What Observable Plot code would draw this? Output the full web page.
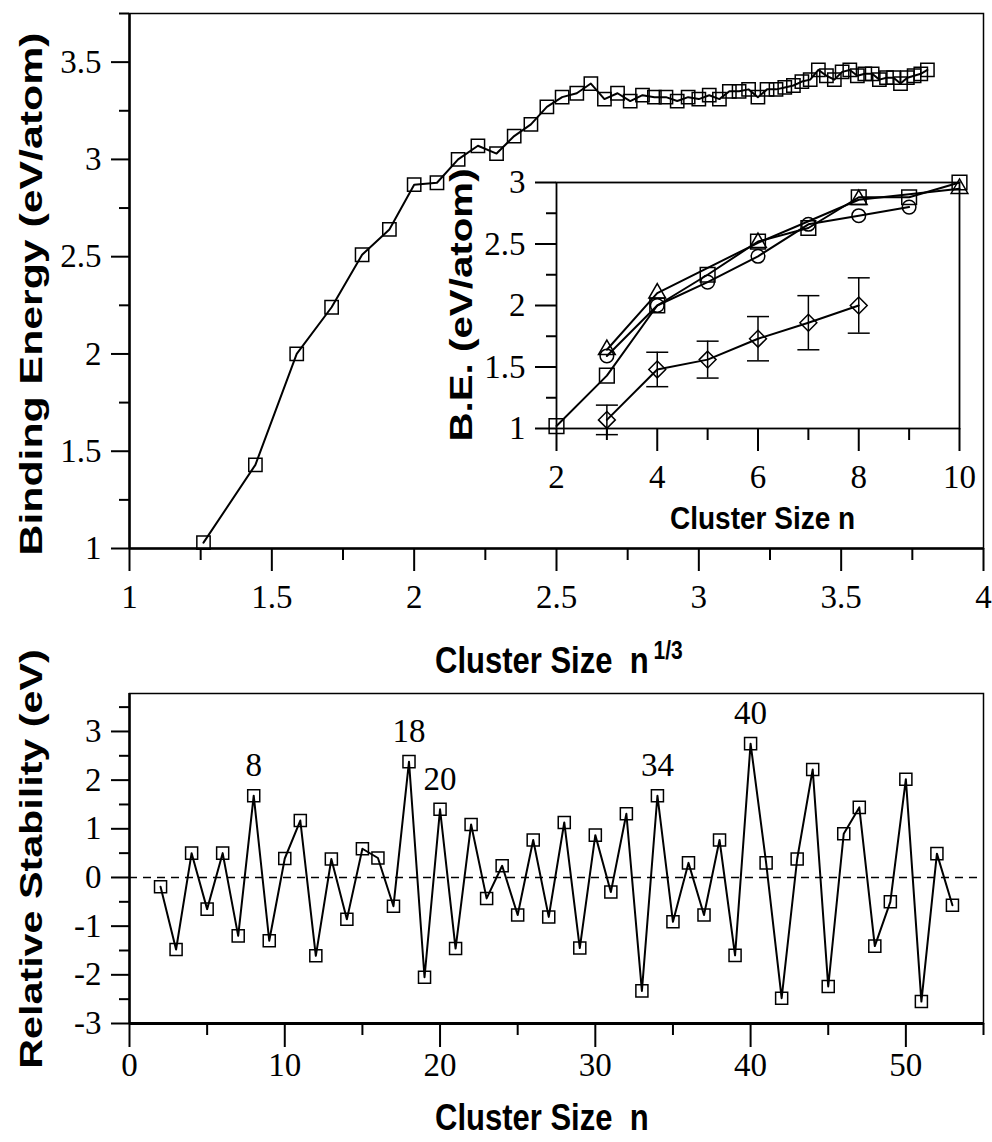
<!DOCTYPE html>
<html><head><meta charset="utf-8">
<script src="https://cdn.jsdelivr.net/npm/d3@7"></script>
<script src="https://cdn.jsdelivr.net/npm/@observablehq/plot@0.6"></script>
<style>
html,body{margin:0;padding:0;background:#fff;}
#page{position:relative;width:992px;height:1142px;overflow:hidden;background:#fff;}
.lbl{position:absolute;font-family:"Liberation Sans",Arial,Helvetica,sans-serif;font-weight:bold;color:#000;white-space:nowrap;}
</style></head><body><div id="page"></div>
<script>
// ---------------- data ----------------
const beN = d3.range(2, 56);
const beValues = [1.03,1.43,2.00,2.24,2.51,2.64,2.87,2.88,3.00,3.07,
  3.03,3.12,3.18,3.27,3.32,3.34,3.39,3.31,3.34,3.30,
  3.33,3.32,3.32,3.30,3.32,3.31,3.33,3.31,3.35,3.35,
  3.36,3.32,3.36,3.36,3.37,3.38,3.40,3.41,3.46,3.43,
  3.41,3.45,3.46,3.43,3.44,3.44,3.41,3.42,3.42,3.39,
  3.42,3.43,3.44,3.46];
const rsN = d3.range(2, 54);
const rsValues = [-0.19,-1.48,0.50,-0.65,0.50,-1.20,1.68,-1.30,0.39,1.17,
  -1.61,0.38,-0.86,0.59,0.40,-0.59,2.38,-2.05,1.40,-1.46,
  1.09,-0.43,0.24,-0.77,0.77,-0.81,1.13,-1.45,0.87,-0.30,
  1.31,-2.33,1.68,-0.91,0.30,-0.77,0.77,-1.60,2.75,0.30,
  -2.48,0.38,2.22,-2.24,0.90,1.44,-1.41,-0.50,2.02,-2.55,
  0.49,-0.57];
const magicN = [8, 18, 20, 34, 40];

const insetSqN = [2,3,4,5,6,7,8,9,10];
const insetSqBE = [1.02,1.43,2.00,2.25,2.52,2.63,2.88,2.88,3.00];
const insetTriN = [3,4,6,8,10];
const insetTriBE = [1.64,2.10,2.51,2.86,2.95];
const insetCircN = [3,4,5,6,7,8,9];
const insetCircBE = [1.59,2.00,2.19,2.40,2.66,2.73,2.80];
const insetExpN = [3,4,5,6,7,8];
const insetExpBE = [1.07,1.48,1.56,1.73,1.86,2.00];
const insetExpErr = [0.12,0.14,0.15,0.18,0.22,0.225];

const topXMajor = [1,1.5,2,2.5,3,3.5,4];
const topXMinor = [1.25,1.75,2.25,2.75,3.25,3.75];
const topYMajor = [1,1.5,2,2.5,3,3.5];
const topYMinor = [1.25,1.75,2.25,2.75,3.25,3.75];
const botXMajor = [0,10,20,30,40,50];
const botXMinor = [5,15,25,35,45,55];
const botYMajor = [-3,-2,-1,0,1,2,3];
const botYMinor = [-2.5,-1.5,-0.5,0.5,1.5,2.5,3.5];
const inXMajor = [2,4,6,8,10];
const inXMinor = [3,5,7,9];
const inYMajor = [1,1.5,2,2.5,3];
const inYMinor = [1.25,1.75,2.25,2.75];

const yLabelTop = "Binding Energy (eV/atom)";
const xLabelTop = "Cluster Size\u00a0 n";
const xLabelTopSup = "1/3";
const yLabelBottom = "Relative Stability (eV)";
const xLabelBottom = "Cluster Size\u00a0 n";
const yLabelInset = "B.E. (eV/atom)";
const xLabelInset = "Cluster Size n";

// ---------------- tables ----------------
const beData = beN.map((n, i) => ({n, root: Math.cbrt(n), be: beValues[i]}));
const rsData = rsN.map((n, i) => ({n, rs: rsValues[i]}));
const sqData = insetSqN.map((n, i) => ({n, be: insetSqBE[i]}));
const triData = insetTriN.map((n, i) => ({n, be: insetTriBE[i]}));
const circData = insetCircN.map((n, i) => ({n, be: insetCircBE[i]}));
const expData = insetExpN.map((n, i) => ({n, be: insetExpBE[i], lo: insetExpBE[i] - insetExpErr[i], hi: insetExpBE[i] + insetExpErr[i]}));

const serif = '"Liberation Serif","Times New Roman",Times,serif';
const fmt = d => String(d);
const style = {background: "transparent", fontFamily: serif, color: "black", overflow: "visible"};
const capSymbol = {draw(ctx, size) { const r = Math.sqrt(size / Math.PI); ctx.moveTo(-r, 0); ctx.lineTo(r, 0); }};

function axes(xMaj, xMin, yMaj, yMin, o) {
  return [
    Plot.axisX({ticks: xMaj, tickSize: o.xs, tickPadding: o.xp, fontSize: 33, strokeWidth: 2, tickFormat: fmt, label: null}),
    Plot.axisX({ticks: xMin, tickSize: o.xs2, strokeWidth: 2, tickFormat: () => "", label: null}),
    Plot.axisY({ticks: yMaj, tickSize: o.ys, tickPadding: o.yp, fontSize: 33, strokeWidth: 2, tickFormat: fmt, label: null}),
    Plot.axisY({ticks: yMin, tickSize: o.ys2, strokeWidth: 2, tickFormat: () => "", label: null})
  ];
}

const page = document.getElementById("page");
function place(el, left, top) {
  el.style.position = "absolute"; el.style.left = left + "px"; el.style.top = top + "px";
  page.appendChild(el);
}

// ---------------- top chart ----------------
const topChart = Plot.plot({
  width: 992, height: 620,
  marginLeft: 129, marginRight: 9, marginTop: 13, marginBottom: 72,
  x: {domain: [1, 4], axis: null},
  y: {domain: [1, 3.75], axis: null},
  style,
  marks: [
    Plot.frame({stroke: "black", strokeWidth: 1.5}),
    Plot.ruleX([1], {stroke: "black", strokeWidth: 2.5}),
    Plot.ruleY([1], {stroke: "black", strokeWidth: 2.5}),
    ...axes(topXMajor, topXMinor, topYMajor, topYMinor, {xs: 23, xp: 13, xs2: 12, ys: 18, yp: 10, ys2: 10}),
    Plot.line(beData, {x: "root", y: "be", stroke: "black", strokeWidth: 2}),
    Plot.dot(beData, {x: "root", y: "be", symbol: "square", r: 7.5, stroke: "black", fill: "none", strokeWidth: 1.5})
  ]
});
place(topChart, 0, 0);

// ---------------- bottom chart ----------------
const bottomChart = Plot.plot({
  width: 992, height: 462,
  marginLeft: 129, marginRight: 9, marginTop: 13, marginBottom: 119,
  x: {domain: [0, 55], axis: null},
  y: {domain: [-3, 3.78], axis: null},
  style,
  marks: [
    Plot.frame({stroke: "black", strokeWidth: 1.5}),
    Plot.ruleX([0], {stroke: "black", strokeWidth: 2.5}),
    Plot.ruleY([-3], {stroke: "black", strokeWidth: 3}),
    Plot.ruleY([0], {stroke: "black", strokeWidth: 1.6, strokeDasharray: "8,6"}),
    ...axes(botXMajor, botXMinor, botYMajor, botYMinor, {xs: 24, xp: 5, xs2: 12, ys: 18, yp: 10, ys2: 10}),
    Plot.line(rsData, {x: "n", y: "rs", stroke: "black", strokeWidth: 2}),
    Plot.dot(rsData, {x: "n", y: "rs", symbol: "square", r: 6.8, stroke: "black", fill: "none", strokeWidth: 1.5}),
    Plot.text(rsData.filter(d => magicN.includes(d.n)), {x: "n", y: "rs", text: d => String(d.n), dy: -30, fontSize: 33, fill: "black"})
  ]
});
place(bottomChart, 0, 680);

// ---------------- inset ----------------
const mk = {stroke: "black", fill: "none", strokeWidth: 1.5};
const insetChart = Plot.plot({
  width: 560, height: 400,
  marginLeft: 136, marginRight: 21, marginTop: 32, marginBottom: 122,
  x: {domain: [2, 10], axis: null},
  y: {domain: [1, 3], axis: null},
  style,
  marks: [
    Plot.frame({stroke: "black", strokeWidth: 1.8}),
    ...axes(inXMajor, inXMinor, inYMajor, inYMinor, {xs: 23, xp: 13, xs2: 12, ys: 21, yp: 10, ys2: 10}),
    Plot.line(sqData, {x: "n", y: "be", stroke: "black", strokeWidth: 2}),
    Plot.line(triData, {x: "n", y: "be", stroke: "black", strokeWidth: 2}),
    Plot.line(circData, {x: "n", y: "be", stroke: "black", strokeWidth: 2}),
    Plot.line(expData, {x: "n", y: "be", stroke: "black", strokeWidth: 2}),
    Plot.ruleX(expData, {x: "n", y1: "lo", y2: "hi", stroke: "black", strokeWidth: 1.5}),
    Plot.dot(expData, {x: "n", y: "hi", symbol: capSymbol, r: 11, stroke: "black", strokeWidth: 1.5}),
    Plot.dot(expData, {x: "n", y: "lo", symbol: capSymbol, r: 11, stroke: "black", strokeWidth: 1.5}),
    Plot.dot(sqData, {x: "n", y: "be", symbol: "square", r: 8.3, ...mk}),
    Plot.dot(triData, {x: "n", y: "be", symbol: "triangle2", r: 8, ...mk}),
    Plot.dot(circData, {x: "n", y: "be", symbol: "circle", r: 6.8, ...mk}),
    Plot.dot(expData, {x: "n", y: "be", symbol: "diamond2", r: 7.6, ...mk})
  ]
});
place(insetChart, 420, 150);

// ---------------- axis labels (HTML text) ----------------
function addText(html, css) {
  const d = document.createElement("div");
  d.className = "lbl";
  d.innerHTML = html;
  Object.assign(d.style, css);
  page.appendChild(d);
  return d;
}
// rotated y labels, centred on (left, top)
addText(yLabelTop, {left: "31px", top: "294px", fontSize: "31px", lineHeight: "31px", transform: "translate(-50%,-50%) rotate(-90deg) scale(1.38,1)"});
addText(yLabelBottom, {left: "31px", top: "859px", fontSize: "31px", lineHeight: "31px", transform: "translate(-50%,-50%) rotate(-90deg) scale(1.33,1)"});
addText(yLabelInset, {left: "461px", top: "305px", fontSize: "31px", lineHeight: "31px", transform: "translate(-50%,-50%) rotate(-90deg) scale(1.3,1)"});
// horizontal x labels (baseline positioned)
addText(`${xLabelTop}<span style="font-size:21px;position:relative;top:-12.5px;margin-left:5px">${xLabelTopSup}</span>`,
  {left: "435px", top: (673 - 26.2) + "px", fontSize: "31px", lineHeight: "31px", transformOrigin: "0 26.2px", transform: "scaleY(1.2)"});
addText(xLabelBottom, {left: "435px", top: (1130 - 26.2) + "px", fontSize: "31px", lineHeight: "31px", transformOrigin: "0 26.2px", transform: "scaleY(1.2)"});
addText(xLabelInset, {left: "670px", top: (530 - 23.7) + "px", fontSize: "28px", lineHeight: "28px", transformOrigin: "0 23.7px", transform: "scaleY(1.1)"});
</script>
</body></html>
